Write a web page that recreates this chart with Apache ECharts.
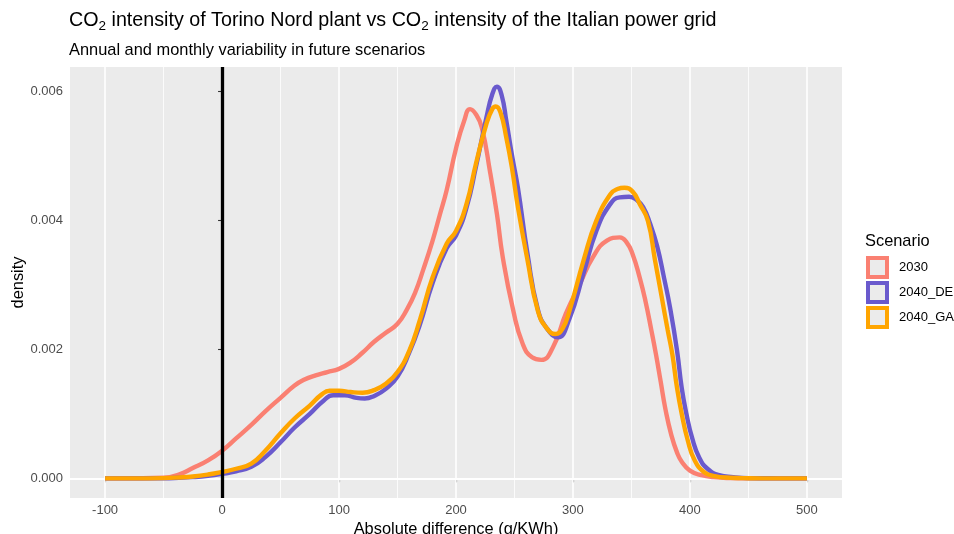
<!DOCTYPE html>
<html>
<head>
<meta charset="utf-8">
<script src="https://cdn.jsdelivr.net/npm/echarts@6/dist/echarts.min.js"></script>
<style>html,body{margin:0;padding:0;background:#fff}#c{width:954px;height:534px}</style>
</head>
<body>
<div id="c"></div>
<script>
// ---------- data ----------
const scenarios = ['2030', '2040_DE', '2040_GA'];
const colors = ['#FA8072', '#6A5ACD', '#FFA500'];

const s2030 = [[-100,0],[-75,0.000002],[-50,0.00001],[-37,0.00006],[-25,0.00016],[-12,0.00028],[0,0.00043],[12,0.00062],[25,0.00083],[37,0.00104],[50,0.00125],[62,0.00144],[70,0.00153],[80,0.0016],[90,0.00165],[100,0.0017],[110,0.0018],[120,0.00195],[130,0.00212],[140,0.00226],[150,0.0024],[158,0.00262],[165,0.00288],[172,0.00324],[180,0.00369],[186,0.00408],[192,0.00447],[200,0.00512],[207,0.00555],[212,0.00573],[217,0.00565],[222,0.00545],[229,0.00477],[235,0.0041],[240,0.00343],[249,0.0026],[257,0.00209],[265,0.00188],[273,0.00184],[283,0.00204],[294,0.00256],[306,0.00302],[317,0.00343],[329,0.00369],[340,0.00374],[346,0.00366],[351,0.00348],[357,0.00312],[362,0.00275],[367,0.0023],[371,0.00192],[375,0.0015],[379,0.00108],[384,0.00068],[389,0.0004],[393,0.00026],[400,0.00012],[410,0.00005],[420,0.00002],[435,0.000005],[450,0.000001],[475,0],[500,0]];

const s2040DE = [[-100,0],[-75,0],[-50,0.000003],[-37,0.00001],[-25,0.00002],[-12,0.00004],[0,0.00007],[12,0.00011],[25,0.00018],[37,0.00033],[50,0.00056],[62,0.00079],[75,0.001],[87,0.00121],[95,0.00129],[105,0.00129],[115,0.00125],[122,0.00124],[130,0.00128],[140,0.00139],[150,0.00158],[160,0.00195],[169,0.00238],[180,0.00303],[192,0.00357],[200,0.00377],[209,0.0042],[217,0.00483],[226,0.0056],[231,0.00596],[235,0.00608],[239,0.00595],[243,0.00555],[248,0.005],[253,0.0045],[261,0.0035],[270,0.00262],[278,0.00232],[287,0.00219],[297,0.00248],[309,0.00318],[320,0.00384],[332,0.00426],[340,0.00436],[348,0.00437],[354,0.00433],[360,0.00421],[366,0.00395],[372,0.0036],[378,0.0031],[383,0.00265],[389,0.00198],[393,0.0014],[397,0.001],[402,0.00062],[408,0.00032],[415,0.00015],[425,0.00005],[437,0.00002],[450,0.000005],[475,0.000001],[500,0]];

const s2040GA = [[-100,0],[-75,0],[-50,0.000005],[-37,0.000015],[-25,0.00003],[-12,0.00006],[0,0.0001],[12,0.00015],[25,0.00023],[37,0.00043],[50,0.0007],[62,0.00093],[75,0.00113],[85,0.0013],[92,0.00136],[100,0.00136],[110,0.00134],[120,0.00133],[130,0.00137],[140,0.00147],[150,0.00165],[160,0.00198],[169,0.00245],[180,0.00312],[192,0.00364],[200,0.00384],[209,0.00426],[217,0.00488],[226,0.0055],[231,0.00573],[234,0.00577],[238,0.00568],[243,0.00529],[248,0.0048],[253,0.0042],[261,0.0034],[270,0.0026],[278,0.00232],[285,0.00224],[291,0.00232],[297,0.0026],[309,0.00338],[320,0.004],[332,0.00441],[338,0.00449],[344,0.00451],[351,0.00445],[357,0.00426],[364,0.004],[370,0.0034],[376,0.0028],[381,0.0023],[385,0.00192],[389,0.0014],[393,0.001],[398,0.0006],[404,0.00028],[412,0.0001],[420,0.00004],[435,0.00001],[450,0.000003],[475,0],[500,0]];

const seriesData = [s2030, s2040DE, s2040GA];

const xMajorTicks = [-100, 0, 100, 200, 300, 400, 500];
const xMinorTicks = [-50, 50, 150, 250, 350, 450];
const yMajorTicks = [0, 0.002, 0.004, 0.006];
const yMinorTicks = [0.001, 0.003, 0.005];
const vlineX = 0;
const xRange = [-130, 530];
const yRange = [-0.000304, 0.006384];

// ---------- chart ----------
const FONT = '"Liberation Sans", Arial, Helvetica, sans-serif';
const chart = echarts.init(document.getElementById('c'), null, {renderer: 'canvas'});

const gridLines = [];
xMinorTicks.forEach(v => gridLines.push({xAxis: v, lineStyle: {width: 0.8}}));
yMinorTicks.forEach(v => gridLines.push({yAxis: v, lineStyle: {width: 0.8}}));
xMajorTicks.forEach(v => gridLines.push({xAxis: v, lineStyle: {width: 1.6}}));
yMajorTicks.forEach(v => gridLines.push({yAxis: v, lineStyle: {width: 1.6}}));

const series = [{
  type: 'line', name: '_grid', data: [], silent: true,
  markLine: {
    silent: true, symbol: ['none', 'none'], z: 1, animation: false,
    label: {show: false},
    lineStyle: {color: '#FFFFFF', type: 'solid'},
    emphasis: {disabled: true},
    data: gridLines
  }
}];

scenarios.forEach((name, i) => {
  series.push({
    type: 'line', name: name, data: seriesData[i],
    showSymbol: false, symbol: 'none', smooth: 0.5, z: 3,
    lineStyle: {color: colors[i], width: 4.4},
    itemStyle: {color: colors[i]},
    emphasis: {disabled: true}
  });
});

series.push({
  type: 'line', name: '_vline', data: [], silent: true,
  markLine: {
    silent: true, symbol: ['none', 'none'], z: 10, animation: false,
    label: {show: false},
    lineStyle: {color: '#000000', type: 'solid', width: 3.3},
    emphasis: {disabled: true},
    data: [{xAxis: vlineX}]
  }
});

const option = {
  animation: false,
  backgroundColor: '#FFFFFF',
  title: [{
    text: '{a|CO}{s|2}{a| intensity of Torino Nord plant vs CO}{s|2}{a| intensity of the Italian power grid}',
    left: 69, top: 9, padding: 0,
    textStyle: {
      fontFamily: FONT, fontSize: 19.7, color: '#000', fontWeight: 'normal',
      rich: {
        a: {fontFamily: FONT, fontSize: 19.7, color: '#000', lineHeight: 24},
        s: {fontFamily: FONT, fontSize: 13.5, color: '#000', lineHeight: 10, verticalAlign: 'bottom'}
      }
    }
  }, {
    text: 'Annual and monthly variability in future scenarios',
    left: 69, top: 42, padding: 0,
    textStyle: {fontFamily: FONT, fontSize: 16.4, color: '#000', fontWeight: 'normal'}
  }, {
    text: 'Scenario',
    left: 865, top: 233, padding: 0,
    textStyle: {fontFamily: FONT, fontSize: 16.4, color: '#000', fontWeight: 'normal'}
  }],
  legend: {
    orient: 'vertical', left: 866, top: 256, padding: 0,
    itemWidth: 19, itemHeight: 19, itemGap: 2,
    selectedMode: false, icon: 'rect',
    textStyle: {fontFamily: FONT, fontSize: 13, color: '#000', padding: [0, 0, 0, 7]},
    data: scenarios.map((n, i) => ({
      name: n, icon: 'rect',
      itemStyle: {color: '#EBEBEB', borderColor: colors[i], borderWidth: 4}
    }))
  },
  grid: {
    left: 70, right: 112, top: 67, bottom: 36,
    show: true, backgroundColor: '#EBEBEB', borderWidth: 0,
    containLabel: false, outerBoundsMode: 'none'
  },
  xAxis: {
    type: 'value', min: xRange[0], max: xRange[1],
    axisLine: {show: false},
    splitLine: {show: false},
    axisTick: {show: true, customValues: xMajorTicks, length: 4, lineStyle: {color: '#333333', width: 1.1}},
    axisLabel: {customValues: xMajorTicks, color: '#4D4D4D', fontSize: 13, fontFamily: FONT, margin: 6,
      formatter: v => String(v)},
    name: 'Absolute difference (g/KWh)', nameLocation: 'middle', nameGap: 23, nameMoveOverlap: false,
    nameTextStyle: {fontFamily: FONT, fontSize: 16.4, color: '#000'}
  },
  yAxis: {
    type: 'value', min: yRange[0], max: yRange[1],
    axisLine: {show: false},
    splitLine: {show: false},
    axisTick: {show: true, customValues: yMajorTicks, length: 4, lineStyle: {color: '#333333', width: 1.1}},
    axisLabel: {customValues: yMajorTicks, color: '#4D4D4D', fontSize: 13, fontFamily: FONT, margin: 7,
      formatter: v => v.toFixed(3)},
    name: 'density', nameLocation: 'middle', nameGap: 44, nameRotate: 90, nameMoveOverlap: false,
    nameTextStyle: {fontFamily: FONT, fontSize: 16.4, color: '#000'}
  },
  series: series
};
chart.setOption(option);
</script>
</body>
</html>
